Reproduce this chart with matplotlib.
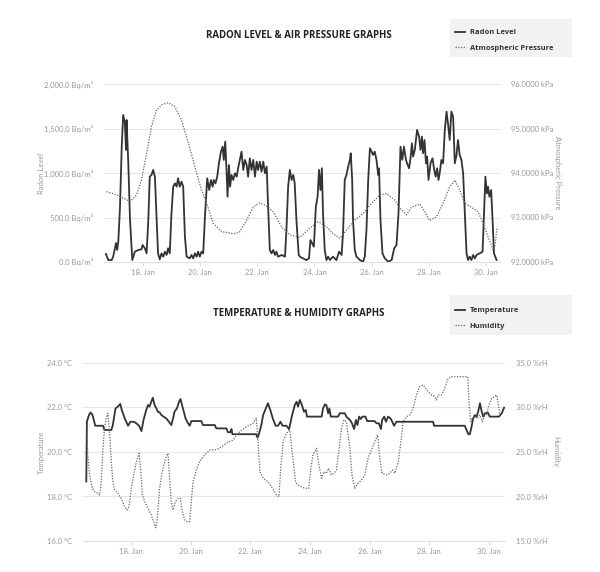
import matplotlib
matplotlib.use('Agg')
import matplotlib.pyplot as plt
from matplotlib.patches import Rectangle
from matplotlib.ticker import FuncFormatter

plt.rcParams['font.family'] = ['Lato', 'DejaVu Sans']
bold_font = ['Open Sans', 'DejaVu Sans']

# radon level (Bq/m³), x in days of January
radon_days = [16.71, 16.79, 16.91, 16.96, 17.06, 17.10, 17.14, 17.20, 17.26, 17.31, 17.37, 17.41, 17.43,
              17.49, 17.55, 17.63, 17.72, 17.84, 17.95, 17.99, 18.07, 18.13, 18.19, 18.24, 18.30, 18.36,
              18.42, 18.48, 18.53, 18.59, 18.65, 18.71, 18.77, 18.83, 18.88, 18.94, 19.00, 19.06, 19.12,
              19.18, 19.23, 19.29, 19.35, 19.41, 19.47, 19.53, 19.64, 19.70, 19.76, 19.82, 19.88, 19.93,
              19.99, 20.05, 20.11, 20.17, 20.25, 20.32, 20.38, 20.44, 20.48, 20.54, 20.60, 20.66, 20.73,
              20.79, 20.83, 20.88, 20.93, 20.96, 21.01, 21.05, 21.10, 21.16, 21.22, 21.28, 21.33, 21.39,
              21.45, 21.51, 21.57, 21.63, 21.68, 21.74, 21.80, 21.86, 21.92, 21.98, 22.03, 22.09, 22.15,
              22.21, 22.27, 22.33, 22.38, 22.44, 22.50, 22.56, 22.62, 22.67, 22.73, 22.85, 22.97, 23.02,
              23.08, 23.14, 23.20, 23.26, 23.31, 23.37, 23.45, 23.49, 23.60, 23.72, 23.81, 23.86, 23.92,
              23.98, 24.05, 24.11, 24.16, 24.21, 24.26, 24.30, 24.36, 24.42, 24.48, 24.54, 24.65, 24.77,
              24.86, 24.95, 25.00, 25.06, 25.12, 25.18, 25.24, 25.27, 25.32, 25.35, 25.41, 25.47, 25.59,
              25.70, 25.76, 25.82, 25.88, 25.94, 26.00, 26.05, 26.11, 26.17, 26.23, 26.26, 26.31, 26.38,
              26.46, 26.58, 26.70, 26.79, 26.87, 26.94, 27.01, 27.07, 27.13, 27.20, 27.24, 27.31, 27.36,
              27.41, 27.45, 27.51, 27.59, 27.66, 27.71, 27.76, 27.80, 27.85, 27.90, 27.94, 27.99, 28.06,
              28.13, 28.19, 28.24, 28.29, 28.34, 28.38, 28.44, 28.50, 28.56, 28.62, 28.67, 28.73, 28.79,
              28.85, 28.91, 28.97, 29.02, 29.08, 29.14, 29.20, 29.26, 29.32, 29.37, 29.43, 29.49, 29.55,
              29.61, 29.67, 29.78, 29.88, 29.93, 29.98, 30.03, 30.07, 30.12, 30.18, 30.23, 30.28, 30.37]
radon_vals = [90, 22, 22, 60, 213, 135, 228, 622, 1296, 1652, 1559, 1259, 1596,
              1109, 472, 22, 116, 135, 143, 191, 154, 97, 472, 959, 978, 1034,
              959, 472, 97, 30, 97, 60, 116, 79, 154, 97, 547, 846, 884,
              846, 940, 846, 903, 846, 284, 60, 41, 79, 41, 97, 60, 116,
              60, 116, 97, 509, 940, 809, 922, 846, 922, 884, 959, 1109, 1240,
              1296, 1147, 1352, 997, 734, 1090, 846, 978, 922, 997, 959, 1053, 1147,
              1240, 1034, 1147, 1090, 959, 1165, 1034, 1147, 959, 1128, 1034, 1128, 1015,
              1128, 997, 1072, 622, 135, 97, 135, 79, 116, 60, 79, 60, 360,
              846, 1034, 922, 978, 884, 472, 79, 60, 41, 22, 41, 247, 210,
              172, 622, 734, 1034, 809, 1053, 547, 135, 22, 60, 22, 60, 22,
              116, 79, 322, 922, 978, 1072, 1147, 1222, 922, 472, 135, 60, 22,
              4, 60, 360, 922, 1278, 1240, 1203, 1240, 1147, 978, 1053, 472, 97,
              41, 4, 22, 154, 191, 547, 1296, 1147, 1296, 1147, 1109, 1053, 1165,
              1334, 1184, 1259, 1484, 1409, 1259, 1409, 1222, 1371, 1109, 1184, 922, 1109,
              1165, 1034, 959, 1053, 922, 997, 1147, 1109, 1484, 1690, 1559, 1371, 1690,
              1634, 1109, 1203, 1371, 1203, 1147, 997, 547, 97, 22, 60, 22, 79,
              41, 79, 97, 116, 547, 959, 772, 846, 734, 809, 472, 97, 22]

# atmospheric pressure (kPa)
pressure_days = [16.73, 17.08, 17.55, 17.78, 17.95, 18.13, 18.30, 18.48, 18.65, 18.88, 19.12, 19.35,
                 19.58, 19.82, 20.05, 20.23, 20.46, 20.75, 20.98, 21.16, 21.39, 21.63, 21.86, 22.09,
                 22.33, 22.56, 22.85, 23.14, 23.49, 23.84, 24.13, 24.42, 24.65, 24.89, 25.12, 25.41,
                 25.70, 26.00, 26.29, 26.52, 26.81, 26.99, 27.22, 27.40, 27.69, 27.86, 28.03, 28.27,
                 28.50, 28.73, 28.91, 29.08, 29.26, 29.49, 29.72, 29.90, 30.07, 30.25, 30.31, 30.39]
pressure_vals = [93.58, 93.51, 93.36, 93.51, 93.84, 94.44, 95.04, 95.42, 95.53, 95.58, 95.49, 95.19,
                 94.70, 94.14, 93.62, 93.32, 92.87, 92.68, 92.66, 92.63, 92.68, 92.94, 93.24, 93.33,
                 93.26, 93.13, 92.79, 92.61, 92.55, 92.76, 92.91, 92.79, 92.64, 92.53, 92.72, 92.94,
                 93.09, 93.32, 93.51, 93.54, 93.39, 93.21, 93.06, 93.24, 93.30, 93.13, 92.93, 93.02,
                 93.32, 93.69, 93.84, 93.62, 93.32, 93.23, 93.13, 92.87, 92.57, 92.27, 92.34, 92.79]

# temperature (°C)
temp_days = [16.50, 16.52, 16.59, 16.64, 16.70, 16.74, 16.80, 17.06, 17.11, 17.34, 17.39, 17.48, 17.56,
             17.64, 17.69, 17.79, 17.90, 17.98, 18.09, 18.18, 18.27, 18.35, 18.42, 18.51, 18.57, 18.62,
             18.68, 18.73, 18.79, 18.85, 18.90, 18.96, 19.02, 19.09, 19.18, 19.27, 19.35, 19.41, 19.46,
             19.54, 19.61, 19.66, 19.74, 19.83, 19.91, 19.97, 20.02, 20.36, 20.41, 20.81, 20.86, 21.20,
             21.25, 21.33, 21.37, 21.40, 22.20, 22.24, 22.28, 22.37, 22.43, 22.52, 22.59, 22.67, 22.76,
             22.85, 22.93, 23.01, 23.08, 23.21, 23.30, 23.39, 23.46, 23.49, 23.55, 23.60, 23.66, 23.73,
             23.80, 23.86, 23.90, 24.39, 24.44, 24.50, 24.55, 24.61, 24.65, 24.70, 24.94, 25.00, 25.17,
             25.22, 25.34, 25.41, 25.48, 25.54, 25.59, 25.65, 25.70, 25.76, 25.86, 25.92, 26.17, 26.23,
             26.31, 26.38, 26.42, 26.49, 26.55, 26.62, 26.70, 26.76, 26.82, 26.90, 28.13, 28.16, 29.19,
             29.25, 29.31, 29.36, 29.42, 29.47, 29.53, 29.59, 29.64, 29.70, 29.76, 29.81, 29.87, 29.96,
             30.03, 30.34, 30.43, 30.51]
temp_vals = [18.67, 21.36, 21.66, 21.78, 21.69, 21.51, 21.18, 21.18, 20.99, 20.99, 21.21, 21.96, 22.04,
             22.16, 21.89, 21.51, 21.18, 21.36, 21.36, 21.29, 21.18, 20.94, 21.44, 21.89, 22.11, 22.04,
             22.26, 22.44, 22.11, 21.96, 21.81, 21.78, 21.66, 21.59, 21.51, 21.36, 21.21, 21.51, 21.81,
             21.96, 22.26, 22.38, 21.96, 21.51, 21.29, 21.18, 21.39, 21.39, 21.21, 21.21, 21.06, 21.06,
             20.89, 20.89, 21.03, 20.80, 20.80, 20.64, 20.76, 21.21, 21.66, 21.96, 22.19, 21.89, 21.48,
             21.18, 21.18, 21.36, 21.18, 21.18, 21.03, 21.59, 21.96, 22.11, 22.26, 22.04, 22.34, 22.11,
             21.81, 21.89, 21.59, 21.59, 21.96, 22.14, 22.11, 21.74, 21.96, 21.59, 21.59, 21.74, 21.74,
             21.59, 21.44, 21.29, 21.03, 21.44, 21.21, 21.59, 21.48, 21.59, 21.59, 21.39, 21.39, 21.29,
             21.29, 21.03, 21.44, 21.59, 21.36, 21.59, 21.51, 21.36, 21.18, 21.36, 21.36, 21.18, 21.18,
             20.99, 20.80, 20.80, 21.14, 21.51, 21.66, 21.59, 21.81, 22.19, 21.81, 21.59, 21.74, 21.78,
             21.59, 21.59, 21.74, 21.99]

# humidity (%rH)
hum_days = [16.52, 16.55, 16.61, 16.70, 16.78, 16.89, 16.95, 17.00, 17.06, 17.11, 17.17, 17.22, 17.28,
            17.34, 17.39, 17.45, 17.56, 17.67, 17.79, 17.86, 17.93, 18.01, 18.09, 18.18, 18.27, 18.32,
            18.38, 18.46, 18.57, 18.68, 18.76, 18.83, 18.88, 18.96, 19.05, 19.16, 19.24, 19.30, 19.35,
            19.41, 19.49, 19.57, 19.65, 19.72, 19.80, 19.88, 19.97, 20.02, 20.08, 20.19, 20.30, 20.47,
            20.64, 20.81, 20.97, 21.20, 21.42, 21.64, 21.87, 22.09, 22.20, 22.26, 22.32, 22.43, 22.59,
            22.74, 22.88, 22.96, 23.02, 23.10, 23.21, 23.32, 23.42, 23.52, 23.60, 23.71, 23.83, 23.96,
            24.03, 24.10, 24.22, 24.30, 24.39, 24.47, 24.55, 24.63, 24.72, 24.81, 24.89, 24.98, 25.06,
            25.14, 25.22, 25.34, 25.41, 25.50, 25.61, 25.73, 25.84, 25.95, 26.06, 26.17, 26.27, 26.34,
            26.42, 26.57, 26.68, 26.77, 26.85, 26.96, 27.05, 27.12, 27.24, 27.35, 27.46, 27.57, 27.68,
            27.80, 27.88, 27.96, 28.08, 28.19, 28.24, 28.30, 28.41, 28.52, 28.61, 28.72, 29.29, 29.33,
            29.39, 29.44, 29.53, 29.62, 29.70, 29.78, 29.84, 29.92, 30.00, 30.09, 30.18, 30.26, 30.31,
            30.37]
hum_vals = [27.28, 24.66, 22.42, 20.92, 20.54, 20.36, 20.17, 21.66, 25.42, 27.66, 28.79, 29.35, 27.28,
            23.91, 21.66, 20.73, 20.36, 19.80, 18.85, 18.48, 18.85, 20.92, 22.42, 23.91, 24.85, 23.17,
            20.17, 19.42, 18.67, 17.92, 17.17, 16.49, 17.55, 20.92, 22.79, 24.29, 24.85, 21.66, 19.42,
            18.48, 19.42, 19.80, 19.80, 18.29, 17.36, 17.17, 17.17, 19.42, 21.66, 22.98, 23.91, 24.66,
            25.22, 25.22, 25.42, 25.98, 26.35, 27.28, 27.84, 28.22, 28.79, 26.16, 22.79, 22.04, 21.66,
            20.92, 20.17, 19.98, 23.17, 26.16, 27.10, 27.47, 24.50, 21.60, 21.29, 21.10, 20.92, 20.92,
            23.17, 24.66, 25.42, 23.54, 22.04, 22.79, 22.61, 23.17, 22.42, 22.61, 22.98, 25.42, 27.66,
            28.60, 28.40, 25.42, 22.42, 20.92, 21.48, 21.85, 22.42, 24.29, 25.22, 26.16, 26.91, 24.29,
            22.61, 22.42, 22.61, 22.98, 22.61, 23.91, 26.16, 28.40, 28.97, 29.16, 29.91, 31.40, 32.34,
            32.53, 32.16, 31.78, 31.40, 31.21, 30.84, 31.40, 31.40, 32.16, 33.09, 33.46, 33.46, 30.65,
            28.40, 28.79, 28.97, 28.79, 29.16, 28.40, 28.97, 29.16, 30.28, 31.03, 31.21, 31.40, 30.47,
            29.16]

day_ticks = [18, 20, 22, 24, 26, 28, 30]
day_labels = ['18. Jan', '20. Jan', '22. Jan', '24. Jan', '26. Jan', '28. Jan', '30. Jan']

W, H = 600, 572
grey_txt = '#999999'
dark = '#333333'

fig = plt.figure(figsize=(W / 100, H / 100), dpi=100)


def fb(x0, y0, x1, y1):
    # pixel box (top-left origin) -> figure fraction rect
    return [x0 / W, 1 - y1 / H, (x1 - x0) / W, (y1 - y0) / H]


def style_axes(ax, axr, xlim, ylim, yrlim, lfmt, rfmt):
    ax.set_xlim(*xlim)
    ax.set_ylim(*ylim)
    axr.set_ylim(*yrlim)
    for a in (ax, axr):
        for s in a.spines.values():
            s.set_visible(False)
    ax.spines['bottom'].set_visible(True)
    ax.spines['bottom'].set_color('#e0e0e0')
    ax.spines['bottom'].set_linewidth(0.8)
    ax.set_xticks(day_ticks)
    ax.set_xticklabels(day_labels)
    ax.tick_params(axis='x', colors='#dddddd', labelcolor=grey_txt, labelsize=5.5, length=3, pad=2)
    ax.tick_params(axis='y', length=0, labelcolor=grey_txt, labelsize=5.5, pad=8)
    axr.tick_params(axis='y', length=0, labelcolor=grey_txt, labelsize=5.5, pad=8)
    ax.yaxis.set_major_formatter(FuncFormatter(lfmt))
    axr.yaxis.set_major_formatter(FuncFormatter(rfmt))
    ax.yaxis.grid(True, color='#e6e6e6', linewidth=0.8)
    ax.set_axisbelow(True)


def legend_box(x0, y0, x1, y1, handles, labels, pad):
    fig.patches.append(Rectangle((x0 / W, 1 - y1 / H), (x1 - x0) / W, (y1 - y0) / H,
                                 transform=fig.transFigure, facecolor='#f2f2f1',
                                 edgecolor='none', zorder=0))
    fig.legend(handles, labels, loc='upper left', bbox_to_anchor=((x0 - 3) / W, 1 - (y0 + pad) / H),
               frameon=False, handlelength=1.3, handletextpad=0.6, labelspacing=1.05,
               borderpad=0.6, prop={'family': bold_font, 'weight': 'bold', 'size': 5.4},
               labelcolor=dark)


# ---- radon & pressure ----
ax1 = fig.add_axes(fb(104, 84, 500, 262))
ax1r = ax1.twinx()
l1, = ax1.plot(radon_days, radon_vals, color=dark, lw=1.3, zorder=3)
l2, = ax1r.plot(pressure_days, pressure_vals, color='#666666', lw=0.9, ls=(0, (1, 1.2)))
style_axes(ax1, ax1r, (16.64, 30.49), (0, 2000), (92, 96),
           lambda v, p: f'{v:,.1f} Bq/m³', lambda v, p: f'{v:.4f} kPa')
ax1.set_yticks([0, 500, 1000, 1500, 2000])
ax1r.set_yticks([92, 93, 94, 95, 96])
fig.text(299 / W, 1 - 35 / H, 'RADON LEVEL & AIR PRESSURE GRAPHS', ha='center', va='center',
         fontsize=6.9, fontweight='bold', family=bold_font, color='#222222')
fig.text(41 / W, 1 - 173 / H, 'Radon Level', rotation=90, ha='center', va='center',
         fontsize=5.5, color=grey_txt)
fig.text(557 / W, 1 - 173 / H, 'Atmospheric Pressure', rotation=270, ha='center', va='center',
         fontsize=5.5, color=grey_txt)
legend_box(450, 19, 572, 57, [l1, l2], ['Radon Level', 'Atmospheric Pressure'], 2)

# ---- temperature & humidity ----
ax2 = fig.add_axes(fb(83, 363, 505, 541))
ax2r = ax2.twinx()
l3, = ax2.plot(temp_days, temp_vals, color=dark, lw=1.3, zorder=3)
l4, = ax2r.plot(hum_days, hum_vals, color='#666666', lw=0.9, ls=(0, (1, 1.2)))
style_axes(ax2, ax2r, (16.39, 30.54), (16, 24), (15, 35),
           lambda v, p: f'{v:.1f} °C', lambda v, p: f'{v:.1f} %rH')
ax2.set_yticks([16, 18, 20, 22, 24])
ax2r.set_yticks([15, 20, 25, 30, 35])
fig.text(299 / W, 1 - 314 / H, 'TEMPERATURE & HUMIDITY GRAPHS', ha='center', va='center',
         fontsize=6.9, fontweight='bold', family=bold_font, color='#222222')
fig.text(41 / W, 1 - 452 / H, 'Temperature', rotation=90, ha='center', va='center',
         fontsize=5.5, color=grey_txt)
fig.text(556 / W, 1 - 452 / H, 'Humidity', rotation=270, ha='center', va='center',
         fontsize=5.5, color=grey_txt)
legend_box(450, 295, 572, 335, [l3, l4], ['Temperature', 'Humidity'], 4)

fig.savefig('out.png', dpi=100, facecolor='white')
